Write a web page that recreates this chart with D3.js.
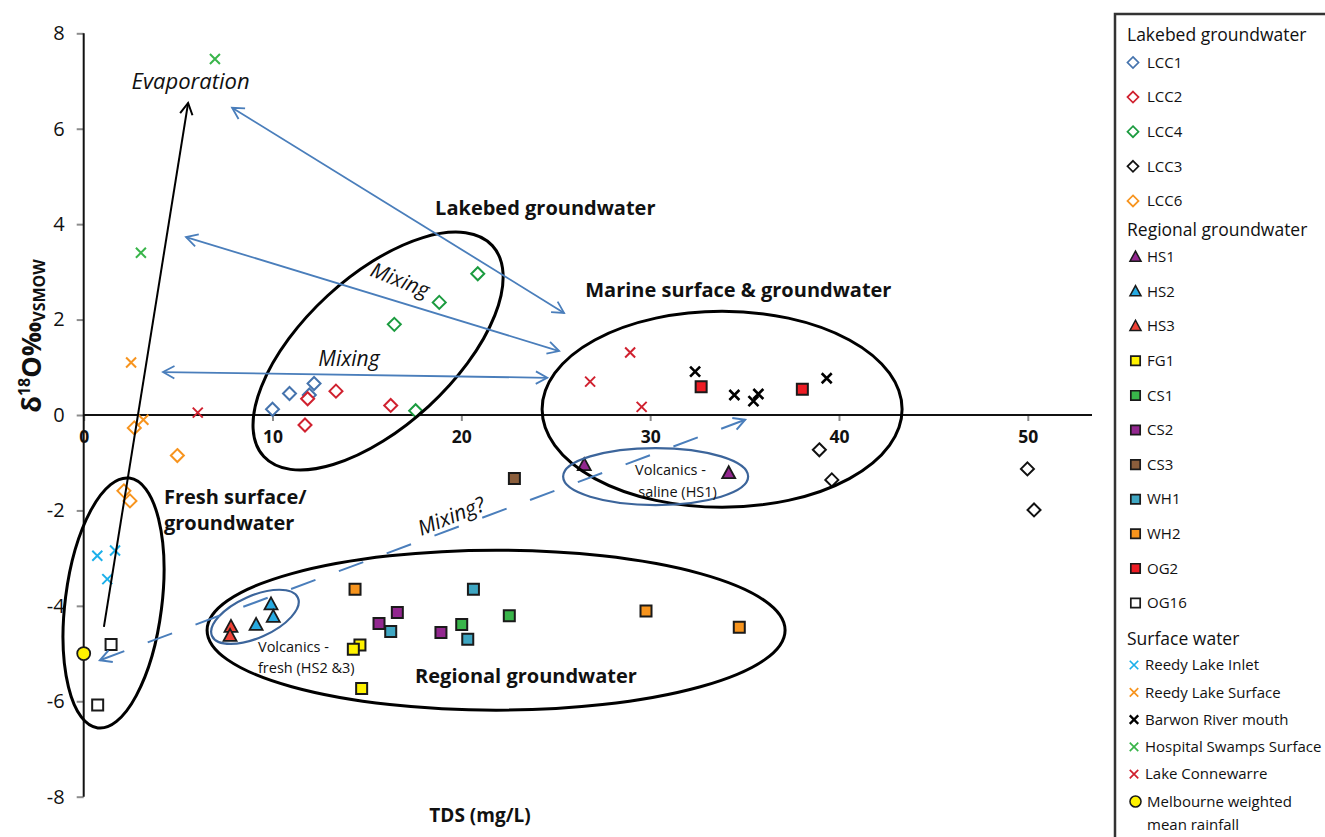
<!DOCTYPE html>
<html><head><meta charset="utf-8">
<script src="https://cdn.jsdelivr.net/npm/d3@7"></script>
<style>
html,body{margin:0;padding:0;background:#fff;}
svg{display:block;font-family:"Open Sans",sans-serif;}
</style></head>
<body><svg id="c" width="1325" height="837"></svg>
<script>
// ---------------- DATA ----------------
const xTicks = [0, 10, 20, 30, 40, 50];
const yTicks = [-8, -6, -4, -2, 0, 2, 4, 6, 8];
const xTitle = "TDS (mg/L)";

// Lakebed groundwater [TDS, d18O]
const lcc1 = [[10.0, 0.12], [10.9, 0.45], [11.95, 0.42], [12.2, 0.66]];
const lcc2 = [[11.86, 0.34], [11.72, -0.21], [13.36, 0.50], [16.26, 0.20]];
const lcc4 = [[20.87, 2.96], [18.83, 2.36], [16.45, 1.90], [17.58, 0.09]];
const lcc3 = [[38.96, -0.73], [39.62, -1.36], [49.98, -1.13], [50.33, -1.99]];
const lcc6 = [[2.68, -0.27], [4.96, -0.85], [2.13, -1.59], [2.45, -1.80]];
// Regional groundwater
const hs1 = [[26.51, -1.05], [34.16, -1.22]];
const hs2 = [[9.92, -3.97], [10.04, -4.23], [9.13, -4.40]];
const hs3 = [[7.80, -4.44], [7.75, -4.63]];
const fg1 = [[14.63, -4.82], [14.28, -4.91], [14.72, -5.73]];
const cs1 = [[20.02, -4.39], [22.54, -4.21]];
const cs2 = [[16.61, -4.14], [15.64, -4.37], [18.92, -4.56]];
const cs3 = [[22.81, -1.33]];
const wh1 = [[20.64, -3.65], [16.26, -4.54], [20.34, -4.70]];
const wh2 = [[14.37, -3.65], [29.78, -4.11], [34.72, -4.45]];
const og2 = [[32.70, 0.59], [38.06, 0.54]];
const og16 = [[1.45, -4.81], [0.74, -6.08]];
// Surface water
const reedyInlet = [[0.72, -2.95], [1.66, -2.84], [1.25, -3.44]];
const reedySurface = [[2.51, 1.10], [3.16, -0.10]];
const barwonMouth = [[32.38, 0.91], [34.46, 0.42], [35.73, 0.44], [35.47, 0.29], [39.35, 0.77]];
const hospitalSwamps = [[6.95, 7.46], [3.03, 3.40]];
const lakeConnewarre = [[6.04, 0.05], [28.94, 1.31], [26.82, 0.70], [29.55, 0.17]];
const melbourneRain = [[0.0, -5.0]];

// ---------------- SERIES STYLE ----------------
const groups = [
  {title: "Lakebed groundwater", items: [
    {name: "LCC1", data: lcc1, shape: "diamond", color: "#4573AD"},
    {name: "LCC2", data: lcc2, shape: "diamond", color: "#D0212F"},
    {name: "LCC4", data: lcc4, shape: "diamond", color: "#1B9B3F"},
    {name: "LCC3", data: lcc3, shape: "diamond", color: "#111111"},
    {name: "LCC6", data: lcc6, shape: "diamond", color: "#F7941E"}]},
  {title: "Regional groundwater", items: [
    {name: "HS1", data: hs1, shape: "triangle", color: "#93278F"},
    {name: "HS2", data: hs2, shape: "triangle", color: "#27AAE1"},
    {name: "HS3", data: hs3, shape: "triangle", color: "#EF4136"},
    {name: "FG1", data: fg1, shape: "square", color: "#FFF200"},
    {name: "CS1", data: cs1, shape: "square", color: "#39B54A"},
    {name: "CS2", data: cs2, shape: "square", color: "#92278F"},
    {name: "CS3", data: cs3, shape: "square", color: "#8B5E3C"},
    {name: "WH1", data: wh1, shape: "square", color: "#3FA6C2"},
    {name: "WH2", data: wh2, shape: "square", color: "#F7941D"},
    {name: "OG2", data: og2, shape: "square", color: "#ED1C24"},
    {name: "OG16", data: og16, shape: "square", color: "#FFFFFF"}]},
  {title: "Surface water", items: [
    {name: "Reedy Lake Inlet", data: reedyInlet, shape: "x", color: "#1CB0EA"},
    {name: "Reedy Lake Surface", data: reedySurface, shape: "x", color: "#F7941E"},
    {name: "Barwon River mouth", data: barwonMouth, shape: "x", color: "#000000", bold: true},
    {name: "Hospital Swamps Surface", data: hospitalSwamps, shape: "x", color: "#39B54A"},
    {name: "Lake Connewarre", data: lakeConnewarre, shape: "x", color: "#D0212F"},
    {name: "Melbourne weighted|mean rainfall", data: melbourneRain, shape: "circle", color: "#FFF200"}]}
];

// ---------------- ANNOTATIONS (data coordinates) ----------------
const ellipses = [
  {cx: 1.58, cy: -3.94, rx: 48.3, ry: 125.9, rot: 7.2, color: "#000", w: 3},
  {cx: 15.59, cy: 1.34, rx: 155.5, ry: 74.9, rot: -42.7, color: "#000", w: 3},
  {cx: 33.81, cy: 0.12, rx: 180, ry: 98, rot: 0, color: "#000", w: 3},
  {cx: 21.84, cy: -4.51, rx: 289, ry: 80, rot: 0, color: "#000", w: 3},
  {cx: 30.29, cy: -1.29, rx: 92.5, ry: 28.5, rot: 0, color: "#3C659B", w: 2.2},
  {cx: 9.07, cy: -4.23, rx: 47, ry: 21, rot: -24, color: "#3C659B", w: 2.2}
];
const arrows = [
  {x1: 1.07, y1: -4.44, x2: 5.53, y2: 6.54, color: "#000", w: 2, start: false, end: true, dash: null},
  {x1: 7.86, y1: 6.44, x2: 25.44, y2: 2.14, color: "#4A7EBB", w: 1.8, start: true, end: true, dash: null},
  {x1: 5.42, y1: 3.73, x2: 25.18, y2: 1.34, color: "#4A7EBB", w: 1.8, start: true, end: true, dash: null},
  {x1: 4.20, y1: 0.90, x2: 24.55, y2: 0.78, color: "#4A7EBB", w: 1.8, start: true, end: true, dash: null},
  {x1: 0.86, y1: -5.14, x2: 35.03, y2: -0.10, color: "#4A7EBB", w: 2, start: true, end: true, dash: "26,25"}
];
const labels = [
  {t: "Evaporation", x: 5.66, y: 6.83, size: 22, style: "italic", anchor: "middle"},
  {t: "Lakebed groundwater", x: 18.61, y: 4.19, size: 20, weight: "bold"},
  {t: "Marine surface & groundwater", x: 26.56, y: 2.47, size: 20, weight: "bold"},
  {t: "Mixing", x: 16.76, y: 2.83, size: 21, style: "italic", anchor: "middle", rot: 21.5, central: true},
  {t: "Mixing", x: 14.05, y: 1.19, size: 21, style: "italic", anchor: "middle", central: true},
  {t: "Mixing?", x: 19.46, y: -2.12, size: 21, style: "italic", anchor: "middle", rot: -21.8, central: true},
  {t: "Fresh surface/", x: 4.25, y: -1.87, size: 20, weight: "bold"},
  {t: "groundwater", x: 4.25, y: -2.41, size: 20, weight: "bold"},
  {t: "Volcanics -", x: 29.2, y: -1.26, size: 14.5},
  {t: "saline (HS1)", x: 29.37, y: -1.72, size: 14.5},
  {t: "Volcanics -", x: 9.23, y: -4.97, size: 14.5},
  {t: "fresh (HS2 &3)", x: 9.23, y: -5.41, size: 14.5},
  {t: "Regional groundwater", x: 17.55, y: -5.62, size: 20, weight: "bold"}
];

// ---------------- DRAW ----------------
const svg = d3.select("#c");
const xs = d3.scaleLinear().domain([0, 53.4]).range([83.7, 1092]);
const ys = d3.scaleLinear().domain([-8, 8]).range([796.7, 33.3]);

// axes
const xAxis = d3.axisBottom(xs).tickValues(xTicks).tickSize(6).tickPadding(10).tickFormat(d => String(d));
const gx = svg.append("g").attr("transform", `translate(0,${ys(0)})`).call(xAxis);
gx.select(".domain").remove();
gx.selectAll(".tick line").attr("stroke", "#8c8c8c").attr("stroke-width", 2);
gx.selectAll(".tick text").attr("font-family", "Open Sans").attr("font-size", 17.5).attr("font-weight", "bold").attr("fill", "#111").attr("dy", "0.71em");

const yAxis = d3.axisLeft(ys).tickValues(yTicks).tickSize(7).tickPadding(12).tickFormat(d => String(d));
const gy = svg.append("g").attr("transform", `translate(${xs(0)},0)`).call(yAxis);
gy.select(".domain").remove();
gy.selectAll(".tick line").attr("stroke", "#8c8c8c").attr("stroke-width", 2);
gy.selectAll(".tick text").attr("font-family", "Open Sans").attr("font-size", 20).attr("fill", "#111");

svg.append("line").attr("x1", xs(0)).attr("x2", xs(53.4)).attr("y1", ys(0)).attr("y2", ys(0)).attr("stroke", "#111").attr("stroke-width", 2);
svg.append("line").attr("x1", xs(0)).attr("x2", xs(0)).attr("y1", ys(8)).attr("y2", ys(-8)).attr("stroke", "#111").attr("stroke-width", 2);

// axis titles
svg.append("text").attr("x", 480).attr("y", 822).attr("text-anchor", "middle").attr("font-weight", "bold").attr("font-size", 19).attr("fill", "#111").text(xTitle);
const yt = svg.append("text").attr("transform", "translate(41,336) rotate(-90)").attr("text-anchor", "middle").attr("font-weight", "bold").attr("font-size", 27).attr("fill", "#111");
yt.append("tspan").text("δ");
yt.append("tspan").attr("font-size", 16).attr("dy", -11).text("18");
yt.append("tspan").attr("dy", 11).text("O‰");
yt.append("tspan").attr("font-size", 16).attr("dy", 4).text("VSMOW");

// markers
function markerPath(shape) {
  if (shape === "diamond") return "M0,-6.5L6.5,0L0,6.5L-6.5,0Z";
  if (shape === "square") return "M-5.5,-5.5H5.5V5.5H-5.5Z";
  if (shape === "triangle") return "M0,-7L6.5,5L-6.5,5Z";
  if (shape === "x") return "M-5,-5L5,5M-5,5L5,-5";
  return "M6.5,0A6.5,6.5 0 1,1 -6.5,0A6.5,6.5 0 1,1 6.5,0Z";
}
function styleMarker(sel, it) {
  const p = sel.attr("d", markerPath(it.shape));
  if (it.shape === "diamond") p.attr("fill", "#fff").attr("stroke", it.color).attr("stroke-width", 2);
  else if (it.shape === "x") p.attr("fill", "none").attr("stroke", it.color).attr("stroke-width", it.bold ? 2.6 : 2);
  else p.attr("fill", it.color).attr("stroke", "#1a1a1a").attr("stroke-width", it.shape === "square" ? 2 : 1.8);
  return p;
}
const mg = svg.append("g");
groups.forEach(g => g.items.forEach(it => {
  mg.selectAll(null).data(it.data).enter().append("path")
    .attr("transform", d => `translate(${xs(d[0])},${ys(d[1])})`)
    .call(s => styleMarker(s, it));
}));

// annotations
const ag = svg.append("g");
ellipses.forEach(e => {
  ag.append("ellipse").attr("cx", 0).attr("cy", 0).attr("rx", e.rx).attr("ry", e.ry)
    .attr("transform", `translate(${xs(e.cx)},${ys(e.cy)}) rotate(${e.rot})`)
    .attr("fill", "none").attr("stroke", e.color).attr("stroke-width", e.w);
});
function head(px, py, ang, a) {
  const L = 13, s = 0.5;
  const p1 = [px - L * Math.cos(ang - s), py - L * Math.sin(ang - s)];
  const p2 = [px - L * Math.cos(ang + s), py - L * Math.sin(ang + s)];
  ag.append("path").attr("d", `M${p1}L${px},${py}L${p2}`).attr("fill", "none")
    .attr("stroke", a.color).attr("stroke-width", a.w).attr("stroke-linejoin", "miter");
}
arrows.forEach(a => {
  const X1 = xs(a.x1), Y1 = ys(a.y1), X2 = xs(a.x2), Y2 = ys(a.y2);
  const l = ag.append("line").attr("x1", X1).attr("y1", Y1).attr("x2", X2).attr("y2", Y2)
    .attr("stroke", a.color).attr("stroke-width", a.w);
  if (a.dash) l.attr("stroke-dasharray", a.dash);
  const ang = Math.atan2(Y2 - Y1, X2 - X1);
  if (a.end) head(X2, Y2, ang, a);
  if (a.start) head(X1, Y1, ang + Math.PI, a);
});
labels.forEach(l => {
  const X = xs(l.x), Y = ys(l.y);
  const t = ag.append("text").attr("x", 0).attr("y", 0)
    .attr("transform", `translate(${X},${Y})` + (l.rot ? ` rotate(${l.rot})` : ""))
    .attr("font-size", l.size).attr("fill", "#111")
    .attr("text-anchor", l.anchor || "start")
    .attr("font-style", l.style || "normal").attr("font-weight", l.weight || "normal")
    .text(l.t);
  if (l.central) t.attr("dy", "0.35em");
});

// legend
const lg = svg.append("g");
lg.append("rect").attr("x", 1115).attr("y", 14).attr("width", 230).attr("height", 840)
  .attr("fill", "#fff").attr("stroke", "#333").attr("stroke-width", 2.5);
const headerY = [35, 230, 639];
const itemStart = [62.5, 257, 665];
const itemStep = [34.6, 34.6, 27.3];
groups.forEach((g, gi) => {
  lg.append("text").attr("x", 1127).attr("y", headerY[gi]).attr("dy", "0.35em")
    .attr("font-size", 17.5).attr("fill", "#111").text(g.title);
  g.items.forEach((it, i) => {
    const cy = itemStart[gi] + i * itemStep[gi];
    const mx = it.shape === "diamond" ? 1133 : it.shape === "x" ? 1134 : 1135.5;
    const m = lg.append("path").attr("transform", `translate(${mx},${cy}) scale(0.85)`);
    styleMarker(m, it);
    const lines = it.name.split("|");
    lines.forEach((ln, k) => {
      lg.append("text").attr("x", it.shape === "x" ? 1145 : 1147).attr("y", cy + k * 23).attr("dy", "0.35em")
        .attr("font-size", 15).attr("fill", "#111").text(ln);
    });
  });
});
</script></body></html>
